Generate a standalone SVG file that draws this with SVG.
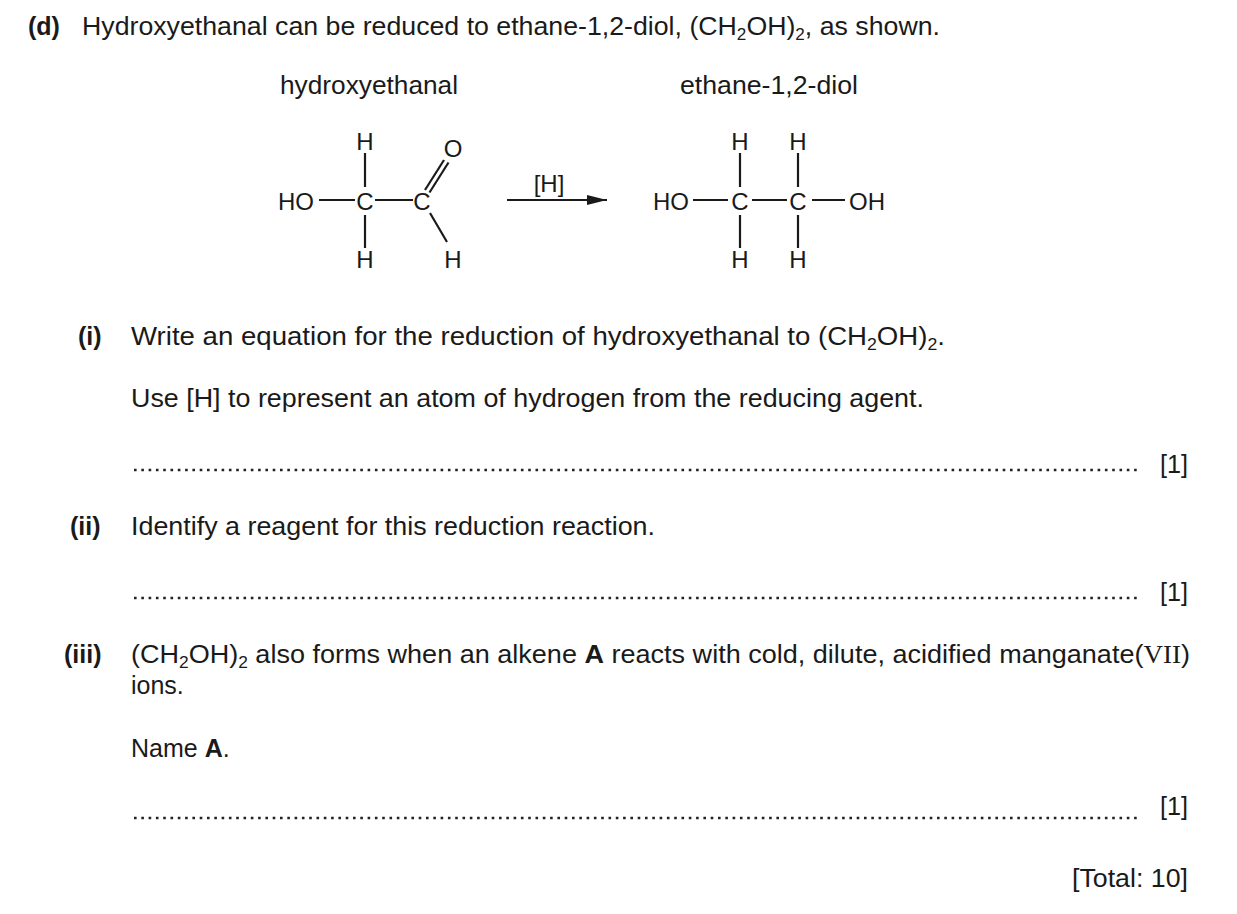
<svg xmlns="http://www.w3.org/2000/svg" width="1237" height="914" viewBox="0 0 1237 914">
<defs>
<style>
.t{font-family:"Liberation Sans",Arial,sans-serif;font-size:25px;fill:#1a1a1a}
.b{font-weight:bold}
.a{font-family:"Liberation Sans",Arial,sans-serif;font-size:24px;fill:#1a1a1a;text-anchor:middle}
.bond{stroke:#1a1a1a;stroke-width:2.2;fill:none}
.dots{stroke:#222;stroke-width:2.6;stroke-dasharray:2.6 4.7}
.s{font-size:16px}
.rom{font-family:"Liberation Serif","Times New Roman",serif}
</style>
<marker id="ah" viewBox="0 0 20 10" refX="20" refY="5" markerWidth="20" markerHeight="10" markerUnits="userSpaceOnUse" orient="auto"><path d="M0,0 L20,5 L0,10 z" fill="#1a1a1a"/></marker>
</defs>
<rect width="1237" height="914" fill="#fff"/>

<text class="t b" x="28" y="35">(d)</text>
<text class="t" x="82" y="35" textLength="858" lengthAdjust="spacingAndGlyphs">Hydroxyethanal can be reduced to ethane-1,2-diol, (CH<tspan class="s" dy="5">2</tspan><tspan dy="-5">OH)</tspan><tspan class="s" dy="5">2</tspan><tspan dy="-5">, as shown.</tspan></text>

<text class="t" x="280" y="94" textLength="178" lengthAdjust="spacingAndGlyphs">hydroxyethanal</text>
<text class="t" x="680" y="94" textLength="178" lengthAdjust="spacingAndGlyphs">ethane-1,2-diol</text>

<g id="hydroxyethanal">
<text class="a" x="365" y="150">H</text>
<text class="a" x="296" y="210">HO</text>
<text class="a" x="365" y="210">C</text>
<text class="a" x="422" y="210">C</text>
<text class="a" x="453" y="157">O</text>
<text class="a" x="365" y="268">H</text>
<text class="a" x="453" y="268">H</text>
<line class="bond" x1="365" y1="153" x2="365" y2="187"/>
<line class="bond" x1="365" y1="215" x2="365" y2="248"/>
<line class="bond" x1="319" y1="200" x2="355" y2="200"/>
<line class="bond" x1="375" y1="200" x2="413" y2="200"/>
<line class="bond" x1="425" y1="190" x2="444" y2="160"/>
<line class="bond" x1="429.5" y1="192.5" x2="448.5" y2="162.5"/>
<line class="bond" x1="430" y1="213" x2="447" y2="242"/>
</g>

<g id="reagent">
<text class="a" x="549" y="192">[H]</text>
</g>

<g id="ethanediol">
<text class="a" x="740" y="150">H</text>
<text class="a" x="798" y="150">H</text>
<text class="a" x="671" y="210">HO</text>
<text class="a" x="740" y="210">C</text>
<text class="a" x="798" y="210">C</text>
<text class="a" x="867" y="210">OH</text>
<text class="a" x="740" y="268">H</text>
<text class="a" x="798" y="268">H</text>
<line class="bond" x1="740" y1="153" x2="740" y2="187"/>
<line class="bond" x1="798" y1="153" x2="798" y2="187"/>
<line class="bond" x1="740" y1="215" x2="740" y2="248"/>
<line class="bond" x1="798" y1="215" x2="798" y2="248"/>
<line class="bond" x1="693" y1="200" x2="728" y2="200"/>
<line class="bond" x1="752" y1="200" x2="787" y2="200"/>
<line class="bond" x1="812" y1="200" x2="845" y2="200"/>
</g>

<g id="connectors">
<line class="bond" x1="507" y1="200" x2="607" y2="200" marker-end="url(#ah)"/>
</g>

<text class="t b" x="78" y="345">(i)</text>
<text class="t" x="131" y="345" textLength="814" lengthAdjust="spacingAndGlyphs">Write an equation for the reduction of hydroxyethanal to (CH<tspan class="s" dy="5">2</tspan><tspan dy="-5">OH)</tspan><tspan class="s" dy="5">2</tspan><tspan dy="-5">.</tspan></text>
<text class="t" x="131" y="407" textLength="793" lengthAdjust="spacingAndGlyphs">Use [H] to represent an atom of hydrogen from the reducing agent.</text>
<line class="dots" x1="134" y1="470" x2="1138" y2="470"/>
<text class="t" x="1160" y="473" textLength="28" lengthAdjust="spacingAndGlyphs">[1]</text>

<text class="t b" x="70" y="535">(ii)</text>
<text class="t" x="131" y="535" textLength="524" lengthAdjust="spacingAndGlyphs">Identify a reagent for this reduction reaction.</text>
<line class="dots" x1="134" y1="598" x2="1138" y2="598"/>
<text class="t" x="1160" y="601" textLength="28" lengthAdjust="spacingAndGlyphs">[1]</text>

<text class="t b" x="64" y="663">(iii)</text>
<text class="t" x="131" y="663" textLength="1059" lengthAdjust="spacingAndGlyphs">(CH<tspan class="s" dy="5">2</tspan><tspan dy="-5">OH)</tspan><tspan class="s" dy="5">2</tspan><tspan dy="-5"> also forms when an alkene </tspan><tspan class="b">A</tspan> reacts with cold, dilute, acidified manganate(<tspan class="rom">VII</tspan>)</text>
<text class="t" x="131" y="694">ions.</text>
<text class="t" x="131" y="757">Name <tspan class="b">A</tspan>.</text>
<line class="dots" x1="134" y1="818" x2="1138" y2="818"/>
<text class="t" x="1160" y="815" textLength="28" lengthAdjust="spacingAndGlyphs">[1]</text>

<text class="t" x="1072" y="887" textLength="116" lengthAdjust="spacingAndGlyphs">[Total: 10]</text>
</svg>
